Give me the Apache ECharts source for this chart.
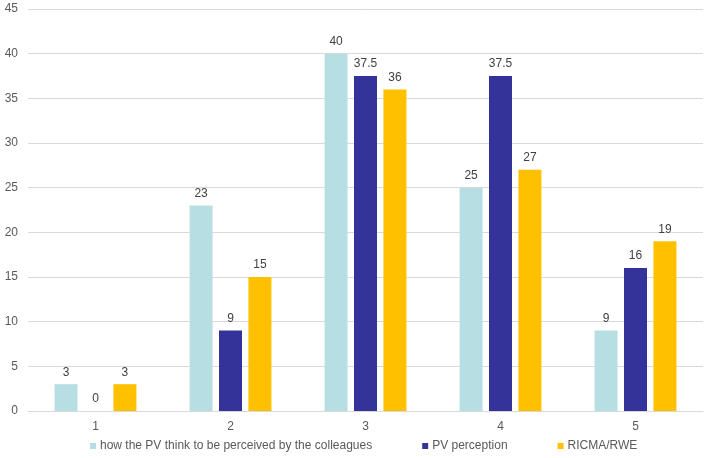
<!DOCTYPE html>
<html><head><meta charset="utf-8">
<script src="https://cdn.jsdelivr.net/npm/echarts@6/dist/echarts.min.js"></script>
<style>html,body{margin:0;padding:0;background:#fff}#c{width:708px;height:458px}</style>
</head><body><div id="c"></div>
<script>
var categories = ['1','2','3','4','5'];
var seriesNames = ['how the PV think to be perceived by the colleagues','PV perception','RICMA/RWE'];
var colleagues = [3, 23, 40, 25, 9];
var pvPerception = [0, 9, 37.5, 37.5, 16];
var ricma = [3, 15, 36, 27, 19];
var colors = ['#b7dfe3', '#333399', '#ffc000'];

var chart = echarts.init(document.getElementById('c'), null, {renderer:'canvas'});
var font = 'Liberation Sans, Arial, sans-serif';
function mk(name, data, color){
  return {
    name: name, type: 'bar', data: data, barWidth: 23, barGap: '28%',
    itemStyle: {color: color},
    label: {show: true, position: 'top', color: '#404040', fontSize: 12, fontFamily: font, distance: 6},
    emphasis: {disabled: true}
  };
}
chart.setOption({
  animation: false,
  textStyle: {fontFamily: font},
  grid: {left: 28, right: 5, top: 9, bottom: 47, containLabel: false},
  legend: {
    top: 435, left: 85, itemWidth: 6, itemHeight: 6, itemGap: 50, icon: 'rect',
    textStyle: {color: '#595959', fontSize: 12, fontFamily: font, padding: [0,0,0,-1]},
    data: seriesNames
  },
  xAxis: {
    type: 'category', data: categories,
    axisLine: {lineStyle: {color: '#d9d9d9'}},
    axisTick: {show: false},
    axisLabel: {color: '#595959', fontSize: 12, margin: 10}
  },
  yAxis: {
    type: 'value', min: 0, max: 45, interval: 5,
    axisLine: {show: false}, axisTick: {show: false},
    splitLine: {lineStyle: {color: '#d9d9d9'}},
    axisLabel: {color: '#595959', fontSize: 12, margin: 10}
  },
  series: [mk(seriesNames[0], colleagues, colors[0]), mk(seriesNames[1], pvPerception, colors[1]), mk(seriesNames[2], ricma, colors[2])]
});
</script></body></html>
